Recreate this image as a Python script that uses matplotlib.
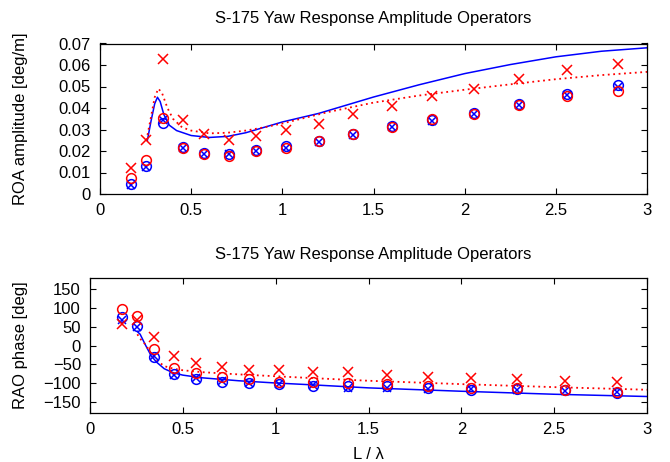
import matplotlib
matplotlib.use("Agg")
from matplotlib import pyplot as plt

plt.rcParams["font.family"] = ["Liberation Sans", "DejaVu Sans"]

title = "S-175 Yaw Response Amplitude Operators"

# Wave length ratio of the measured / computed points
x_pts = [0.17, 0.255, 0.345, 0.455, 0.57, 0.71, 0.855, 1.02, 1.2, 1.39,
         1.6, 1.82, 2.05, 2.3, 2.56, 2.84]

# Amplitude [deg/m]
amp_red_x = [0.0121, 0.0252, 0.063, 0.0345, 0.0277, 0.0249, 0.0272, 0.0296,
             0.0327, 0.0373, 0.0409, 0.0456, 0.0487, 0.0534, 0.0576, 0.0604]
amp_red_o = [0.0075, 0.0156, 0.0355, 0.0216, 0.0187, 0.0179, 0.0202, 0.0215,
             0.0246, 0.028, 0.0311, 0.0347, 0.0373, 0.0412, 0.0456, 0.0479]
amp_blue_o = [0.0047, 0.0128, 0.033, 0.0218, 0.0191, 0.0187, 0.0205, 0.0221,
              0.0247, 0.0278, 0.0314, 0.0345, 0.0376, 0.0417, 0.0467, 0.0505]
amp_blue_x = [0.0044, 0.0124, 0.0345, 0.0215, 0.0187, 0.0184, 0.0202, 0.0215,
              0.0244, 0.0275, 0.031, 0.034, 0.0373, 0.0415, 0.046, 0.05]

# Amplitude curves
amp_blue_line_x = [0.26, 0.28, 0.30, 0.315, 0.33, 0.35, 0.38, 0.42, 0.5, 0.6,
                   0.7, 0.8, 0.9, 1.0, 1.2, 1.5, 1.75, 2.0, 2.25, 2.5, 2.75, 3.0]
amp_blue_line = [0.025, 0.034, 0.042, 0.045, 0.043, 0.037, 0.032, 0.0295, 0.0272,
                 0.0263, 0.0268, 0.0285, 0.031, 0.0335, 0.0375, 0.0451, 0.0508,
                 0.056, 0.0602, 0.0638, 0.0664, 0.068]
amp_red_line_x = [0.255, 0.28, 0.30, 0.32, 0.34, 0.37, 0.40, 0.45, 0.5, 0.6, 0.7,
                  0.8, 0.9, 1.0, 1.25, 1.5, 1.75, 2.0, 2.25, 2.5, 2.75, 3.0]
amp_red_line = [0.025, 0.036, 0.045, 0.049, 0.047, 0.040, 0.035, 0.031, 0.0295,
                0.0282, 0.0285, 0.0295, 0.031, 0.0328, 0.0381, 0.0425, 0.0458,
                0.0485, 0.051, 0.0534, 0.0553, 0.0568]

# Phase [deg]
ph_red_x = [57, 67, 23, -27, -46, -58, -64, -65, -70, -71, -78, -83, -87, -89,
            -94, -97]
ph_red_o = [97, 78, -10, -60, -74, -85, -89, -97, -97, -100, -103, -109, -114,
            -112, -118, -123]
ph_blue_o = [75, 51, -31, -76, -89, -97, -101, -103, -107, -107, -107, -114,
             -118, -116, -119, -127]
ph_blue_x = [69, 49, -29, -78, -87, -95, -99, -102, -106, -112, -112, -115,
             -117, -118, -121, -124]

# Phase curves
ph_line_x = [0.255, 0.27, 0.3, 0.33, 0.36, 0.4, 0.45, 0.5, 0.6, 0.8, 1.0, 1.2,
             1.5, 2.0, 2.5, 3.0]
ph_blue_line = [37, 30, 0, -28, -45, -62, -73, -79, -86, -94, -100, -105, -113,
                -122, -130, -136]
ph_red_line = [30, 18, 2, -22, -40, -55, -62, -66, -71, -77, -82, -87, -94, -103,
               -111, -118]

RED = "#ff0000"
BLUE = "#0000ff"
W, H = 670, 462
FS = 12


def px_axes(fig, left, top, right, bottom):
    return fig.add_axes([left / W, 1 - bottom / H, (right - left) / W, (bottom - top) / H])


def style(ax):
    ax.tick_params(direction="in", top=True, right=True, length=4, width=0.8,
                   labelsize=FS, pad=6.5)
    for s in ax.spines.values():
        s.set_linewidth(0.9)


def draw(ax, xs, rx, ro, bo, bx, blx, bl, rlx, rl):
    ax.plot(blx, bl, color=BLUE, lw=1.1)
    ax.plot(rlx, rl, color=RED, lw=1.3, ls=(0, (1, 2)))
    ax.plot(xs, bo, ls="none", marker="o", mfc="none", mec=BLUE, ms=7, mew=1.1)
    ax.plot(xs, bx, ls="none", marker="x", color=BLUE, ms=6, mew=1.1)
    ax.plot(xs, ro, ls="none", marker="o", mfc="none", mec=RED, ms=7, mew=1.1)
    ax.plot(xs, rx, ls="none", marker="x", color=RED, ms=7, mew=1.1)


fig = plt.figure(figsize=(W / 100, H / 100), dpi=100)

ax1 = px_axes(fig, 100, 43.5, 647, 194)
draw(ax1, x_pts, amp_red_x, amp_red_o, amp_blue_o, amp_blue_x,
     amp_blue_line_x, amp_blue_line, amp_red_line_x, amp_red_line)
ax1.set_xlim(0, 3)
ax1.set_ylim(0, 0.07)
ax1.set_xticks([0, 0.5, 1, 1.5, 2, 2.5, 3])
ax1.set_xticklabels(["0", "0.5", "1", "1.5", "2", "2.5", "3"])
ax1.set_yticks([0, 0.01, 0.02, 0.03, 0.04, 0.05, 0.06, 0.07])
ax1.set_yticklabels(["0", "0.01", "0.02", "0.03", "0.04", "0.05", "0.06", "0.07"])
style(ax1)
ax1.set_ylabel("ROA amplitude [deg/m]", fontsize=FS)
ax1.yaxis.set_label_coords(-0.132, 0.5)
fig.text(373 / W, 1 - 18 / H, title, ha="center", va="center", fontsize=FS)

ax2 = px_axes(fig, 90, 278, 647, 413)
draw(ax2, x_pts, ph_red_x, ph_red_o, ph_blue_o, ph_blue_x,
     ph_line_x, ph_blue_line, ph_line_x, ph_red_line)
ax2.set_xlim(0, 3)
ax2.set_ylim(-180, 180)
ax2.set_xticks([0, 0.5, 1, 1.5, 2, 2.5, 3])
ax2.set_xticklabels(["0", "0.5", "1", "1.5", "2", "2.5", "3"])
ax2.set_yticks([-150, -100, -50, 0, 50, 100, 150])
style(ax2)
ax2.set_ylabel("RAO phase [deg]", fontsize=FS)
ax2.yaxis.set_label_coords(-0.111, 0.5)
ax2.set_xlabel("L / λ", fontsize=FS, labelpad=7)
fig.text(373 / W, 1 - 255 / H, title, ha="center", va="center", fontsize=FS)

fig.savefig("out.png", dpi=100)
